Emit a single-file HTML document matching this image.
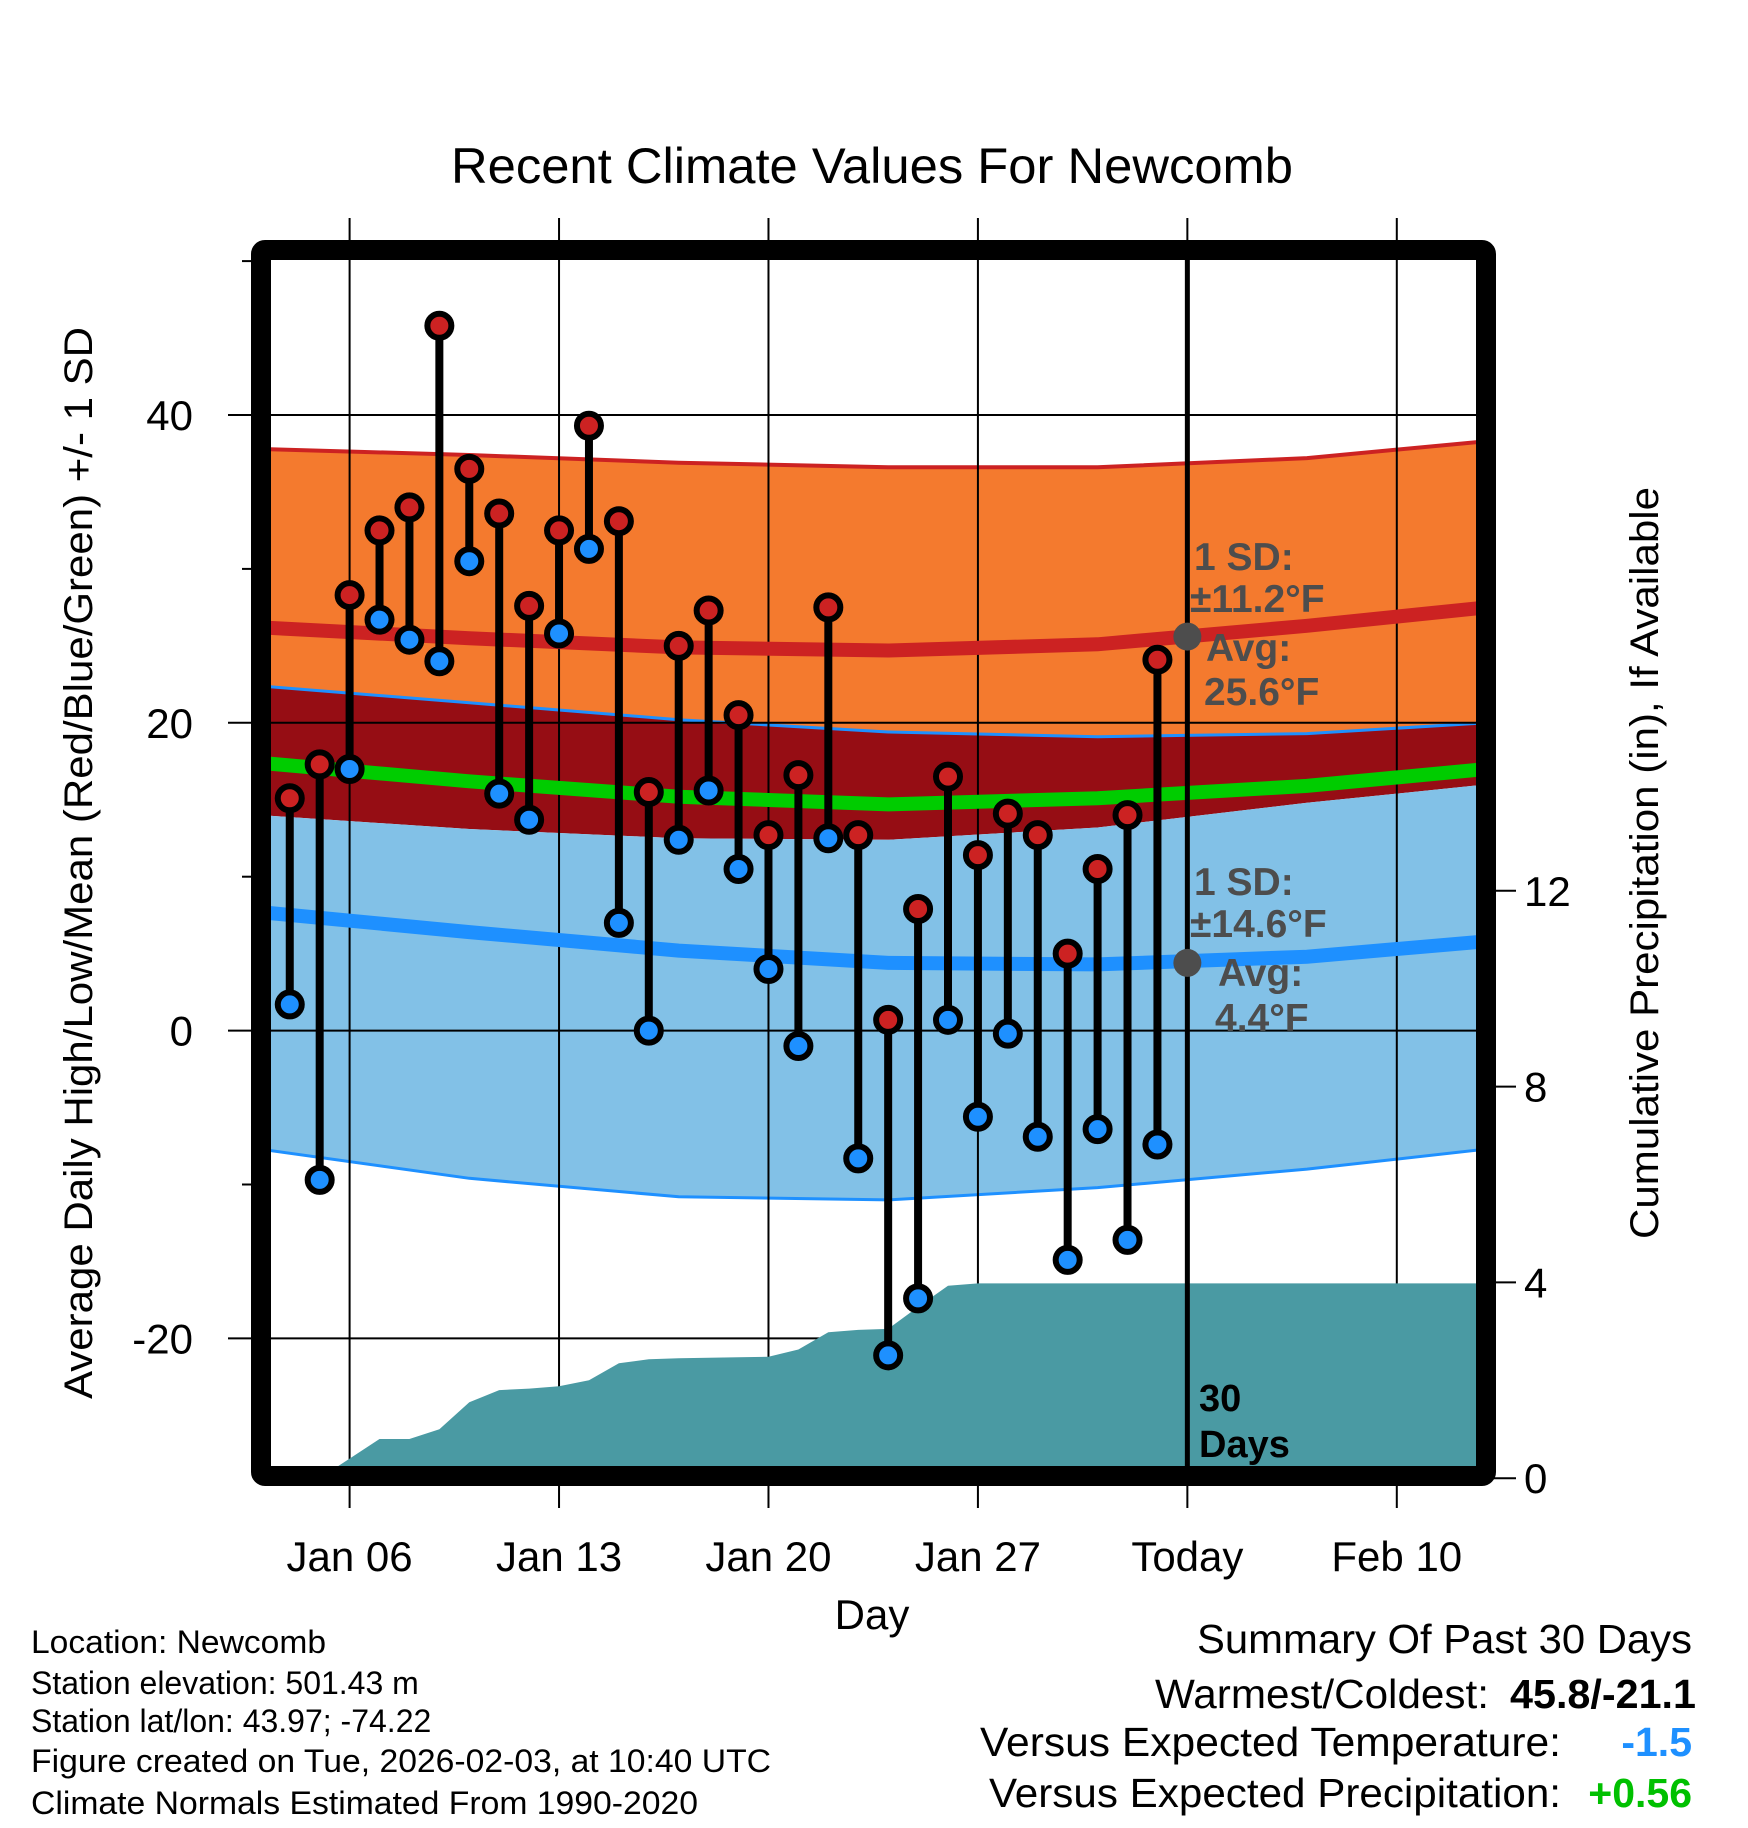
<!DOCTYPE html>
<html><head><meta charset="utf-8">
<style>
html,body{margin:0;padding:0;background:#fff;}
svg{display:block;font-family:"Liberation Sans",Arial,sans-serif;}
</style></head>
<body>
<svg id="chart" width="1748" height="1828" viewBox="0 0 1748 1828" xmlns="http://www.w3.org/2000/svg">
<defs><clipPath id="plotclip"><rect x="270" y="259" width="1207" height="1209"/></clipPath></defs>
<rect width="1748" height="1828" fill="#fff"/>
<g id="bands" clip-path="url(#plotclip)"></g>
<g id="grid"></g>
<g id="precip" clip-path="url(#plotclip)"></g>
<g id="lines" clip-path="url(#plotclip)"></g>
<g id="marks"></g>
<rect x="261" y="250" width="1225" height="1226" fill="none" stroke="#000" stroke-width="20" rx="4"/>
<g id="axes"></g>

<text x="872" y="183" text-anchor="middle" font-size="50" textLength="842" lengthAdjust="spacingAndGlyphs">Recent Climate Values For Newcomb</text>
<text x="872" y="1629" text-anchor="middle" font-size="42">Day</text>
<text transform="translate(92,863) rotate(-90)" text-anchor="middle" font-size="40" textLength="1072" lengthAdjust="spacingAndGlyphs">Average Daily High/Low/Mean (Red/Blue/Green) +/- 1 SD</text>
<text transform="translate(1658,863) rotate(-90)" text-anchor="middle" font-size="40" textLength="752" lengthAdjust="spacingAndGlyphs">Cumulative Precipitation (in), If Available</text>

<g fill="#4d4d4d" font-weight="bold" font-size="39">
<text x="1194" y="570">1 SD:</text>
<text x="1190" y="612">±11.2°F</text>
<text x="1206" y="661">Avg:</text>
<text x="1204" y="705">25.6°F</text>
</g>
<g fill="#4d4d4d" font-weight="bold" font-size="39">
<text x="1194" y="895">1 SD:</text>
<text x="1190" y="937">±14.6°F</text>
<text x="1218" y="986">Avg:</text>
<text x="1215" y="1031">4.4°F</text>
</g>
<g font-weight="bold" font-size="38">
<text x="1199" y="1411">30</text>
<text x="1199" y="1457">Days</text>
</g>

<g font-size="32">
<text x="31" y="1653" textLength="295" lengthAdjust="spacingAndGlyphs">Location: Newcomb</text>
<text x="31" y="1694">Station elevation: 501.43 m</text>
<text x="31" y="1732">Station lat/lon: 43.97; -74.22</text>
<text x="31" y="1772" textLength="740" lengthAdjust="spacingAndGlyphs">Figure created on Tue, 2026-02-03, at 10:40 UTC</text>
<text x="31" y="1814" textLength="667" lengthAdjust="spacingAndGlyphs">Climate Normals Estimated From 1990-2020</text>
</g>
<g font-size="41">
<text x="1692" y="1653" text-anchor="end" textLength="495" lengthAdjust="spacingAndGlyphs">Summary Of Past 30 Days</text>
<text x="1489" y="1708" text-anchor="end" textLength="334" lengthAdjust="spacingAndGlyphs">Warmest/Coldest:</text>
<text x="1696" y="1708" text-anchor="end" font-weight="bold" textLength="186" lengthAdjust="spacingAndGlyphs">45.8/-21.1</text>
<text x="1561" y="1756" text-anchor="end" textLength="581" lengthAdjust="spacingAndGlyphs">Versus Expected Temperature:</text>
<text x="1692" y="1756" text-anchor="end" font-weight="bold" fill="#1e90ff">-1.5</text>
<text x="1561" y="1807" text-anchor="end" textLength="572" lengthAdjust="spacingAndGlyphs">Versus Expected Precipitation:</text>
<text x="1692" y="1807" text-anchor="end" font-weight="bold" fill="#00c000">+0.56</text>
</g>

<script>
const normDays = [3, 10, 17, 24, 31, 38, 44];
const highUpper = [37.8, 37.4, 36.9, 36.6, 36.6, 37.2, 38.3];
const avgHigh = [26.2, 25.5, 24.9, 24.7, 25.1, 26.3, 27.5];
const highLower = [22.4, 21.3, 20.2, 19.4, 19.1, 19.3, 20.0];
const meanTemp = [17.4, 16.2, 15.2, 14.7, 15.1, 15.9, 17.0];
const lowUpper = [14.0, 13.1, 12.5, 12.4, 13.2, 14.8, 16.0];
const avgLow = [7.7, 6.4, 5.2, 4.4, 4.3, 4.8, 5.8];
const lowLower = [-7.7, -9.6, -10.8, -11.0, -10.2, -9.0, -7.7];

const obsDays = [4,5,6,7,8,9,10,11,12,13,14,15,16,17,18,19,20,21,22,23,24,25,26,27,28,29,30,31,32,33];
const highs = [15.1,17.3,28.3,32.5,34.0,45.8,36.5,33.6,27.6,32.5,39.3,33.1,15.5,25.0,27.3,20.5,12.7,16.6,27.5,12.7,0.7,7.9,16.5,11.4,14.1,12.7,5.0,10.5,14.0,24.1];
const lows = [1.7,-9.7,17.0,26.7,25.4,24.0,30.5,15.4,13.7,25.8,31.3,7.0,0.0,12.4,15.6,10.5,4.0,-1.0,12.5,-8.3,-21.1,-17.4,0.7,-5.6,-0.2,-6.9,-14.9,-6.4,-13.6,-7.4];

const precipDays = [5,6,7,8,9,10,11,12,13,14,15,16,17,18,19,20,21,22,23,24,25,26,27,28,29,30,31,32,33,34,44];
const precipCum = [0,0.4,0.8,0.8,1.0,1.55,1.8,1.83,1.88,2.0,2.35,2.43,2.45,2.46,2.47,2.48,2.63,2.98,3.03,3.05,3.5,3.93,3.98,3.98,3.98,3.98,3.98,3.98,3.98,3.98,3.98];

const xTickDays = [6,13,20,27,34,41];
const xTickLabels = ["Jan 06","Jan 13","Jan 20","Jan 27","Today","Feb 10"];
const yTicks = [-20,0,20,40];
const yMinor = [-30,-10,10,30,50];
const pTicks = [0,4,8,12];

const todayDay = 34, todayHigh = 25.6, todayLow = 4.4;

const NS = "http://www.w3.org/2000/svg";
function X(d){return 349.6 + (d-6)*29.92;}
function Y(v){return 1030.6 - v*15.39;}
function YP(p){return 1478.2 - p*48.95;}
function mk(tag, attrs, parent){const e=document.createElementNS(NS,tag);for(const k in attrs)e.setAttribute(k,attrs[k]);parent.appendChild(e);return e;}
function pts(days, vals, yf){return days.map((d,i)=>X(d).toFixed(1)+","+yf(vals[i]).toFixed(1));}
function band(upper, lower, fill, name, g){
  const p = pts(normDays, upper, Y).concat(pts(normDays, lower, Y).reverse());
  const e = mk("polygon",{points:p.join(" "),fill:fill},g);
  
  
}
function line(vals, color, w, name, g){
  const e = mk("polyline",{points:pts(normDays, vals, Y).join(" "),fill:"none",stroke:color,"stroke-width":w},g);
  
  
}
const bands = document.getElementById("bands");
band(highUpper, highLower, "#f47a2e", "high-sd-band", bands);
band(highLower, lowUpper, "#960d14", "overlap-band", bands);
band(lowUpper, lowLower, "#82c1e7", "low-sd-band", bands);
line(highUpper, "#cc2222", 4, "high-upper-line", bands);
line(highLower, "#1e90ff", 3, "low-upper-edge", bands);
line(lowLower, "#1e90ff", 3, "low-lower-line", bands);

const grid = document.getElementById("grid");
xTickDays.forEach(d=>{
  const e = mk("line",{x1:X(d),x2:X(d),y1:218,y2:1508,stroke:"#000","stroke-width":2},grid);
  
  
});
yTicks.forEach(v=>{
  const e = mk("line",{x1:228,x2:1478,y1:Y(v),y2:Y(v),stroke:"#000","stroke-width":2},grid);
  
  
});

const precip = document.getElementById("precip");
{
  const p = pts(precipDays, precipCum, YP);
  p.push(X(44)+","+1485); p.push(X(precipDays[0])+","+1485);
  const e = mk("polygon",{points:p.join(" "),fill:"#4a9aa3"},precip);
  
  
}

const lines = document.getElementById("lines");
line(avgHigh, "#cc2222", 14, "avg-high-line", lines);
line(meanTemp, "#00cc00", 14, "mean-line", lines);
line(avgLow, "#1e90ff", 14, "avg-low-line", lines);
{
  const e = mk("line",{x1:X(todayDay),x2:X(todayDay),y1:259,y2:1468,stroke:"#000","stroke-width":5},lines);
  
  
  const a = mk("circle",{cx:X(todayDay),cy:Y(todayHigh),r:14,fill:"#4d4d4d"},lines);
  
  
  const b = mk("circle",{cx:X(todayDay),cy:Y(todayLow),r:14,fill:"#4d4d4d"},lines);
  
  
}

const marks = document.getElementById("marks");
obsDays.forEach((d,i)=>{
  const s = mk("line",{x1:X(d),x2:X(d),y1:Y(highs[i]),y2:Y(lows[i]),stroke:"#000","stroke-width":8},marks);
  
  
});
obsDays.forEach((d,i)=>{
  const h = mk("circle",{cx:X(d),cy:Y(highs[i]),r:12,fill:"#cc2222",stroke:"#000","stroke-width":6},marks);
  
  
  const l = mk("circle",{cx:X(d),cy:Y(lows[i]),r:12,fill:"#1e90ff",stroke:"#000","stroke-width":6},marks);
  
  
});

const axes = document.getElementById("axes");
xTickDays.forEach((d,i)=>{
  const t = mk("text",{x:X(d),y:1571,"text-anchor":"middle","font-size":42},axes);
  t.textContent = xTickLabels[i];
  
  
});
yTicks.forEach(v=>{
  const t = mk("text",{x:193,y:Y(v)+15,"text-anchor":"end","font-size":42},axes);
  t.textContent = String(v);
  
  
});
yMinor.forEach(v=>{
  const y = Y(v);
  if (y < 245 || y > 1480) return;
  const e = mk("line",{x1:242,x2:256,y1:y,y2:y,stroke:"#000","stroke-width":2},axes);
  
  
});
pTicks.forEach(p=>{
  const e = mk("line",{x1:1494,x2:1516,y1:YP(p),y2:YP(p),stroke:"#000","stroke-width":2},axes);
  
  
  const t = mk("text",{x:1524,y:YP(p)+15,"font-size":42},axes);
  t.textContent = String(p);
  
  
});
</script>
</svg>
</body></html>
